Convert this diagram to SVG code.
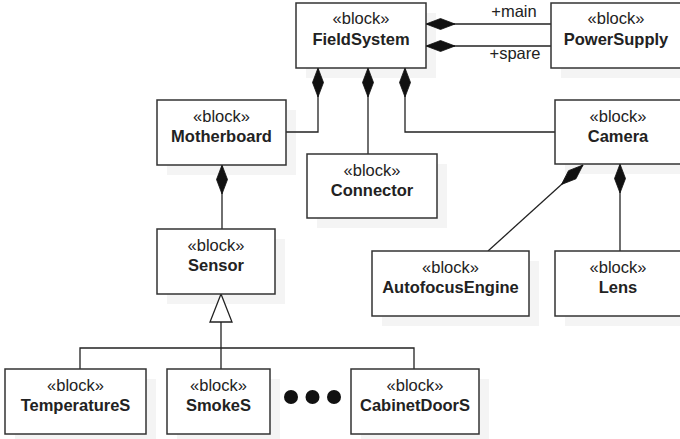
<svg xmlns="http://www.w3.org/2000/svg" width="680" height="439" viewBox="0 0 680 439">
<style>
.shadow{fill:#f4f4f4;stroke:none}
.box{fill:#fff;stroke:#333;stroke-width:1.5}
.st{font-family:"Liberation Sans",Arial,sans-serif;font-size:16.5px;fill:#222;text-anchor:middle}
.nm{font-family:"Liberation Sans",Arial,sans-serif;font-size:16.5px;font-weight:bold;fill:#222;text-anchor:middle}
.lbl{font-family:"Liberation Sans",Arial,sans-serif;font-size:16.5px;fill:#222;text-anchor:middle}
.ln{fill:none;stroke:#222;stroke-width:1.3}
.comp{marker-start:url(#diamond)}
</style>
<defs>
<marker id="diamond" markerUnits="userSpaceOnUse" markerWidth="32" markerHeight="14" viewBox="-1 -7 32 14" refX="0" refY="0" orient="auto" overflow="visible">
<path d="M0,0 L14.5,-5.5 L29,0 L14.5,5.5 Z" fill="#111" stroke="#111" stroke-width="0.8"/>
</marker>
</defs>
<g id="shadows">
<rect class="shadow" x="306" y="13" width="130" height="65"/>
<rect class="shadow" x="561" y="13" width="130" height="65"/>
<rect class="shadow" x="167" y="110" width="129" height="65"/>
<rect class="shadow" x="317" y="164" width="130" height="64"/>
<rect class="shadow" x="565" y="110" width="125" height="64"/>
<rect class="shadow" x="167" y="239" width="118" height="65"/>
<rect class="shadow" x="382" y="261" width="157" height="65"/>
<rect class="shadow" x="565" y="261" width="125" height="65"/>
<rect class="shadow" x="15" y="379" width="141" height="65"/>
<rect class="shadow" x="177" y="379" width="103" height="65"/>
<rect class="shadow" x="361" y="379" width="128" height="65"/>
</g>
<g id="connectors">
<path class="ln comp" d="M426,24 L551,24"/>
<path class="ln comp" d="M426,46 L551,46"/>
<path class="ln comp" d="M318,68 L318,132 L286,132"/>
<path class="ln comp" d="M368,68 L368,154"/>
<path class="ln comp" d="M405,68 L405,132 L555,132"/>
<path class="ln comp" d="M222,165 L222,229"/>
<path class="ln comp" d="M583,165 L488,251"/>
<path class="ln comp" d="M620,164 L620,251"/>
<path class="ln" d="M221,322 L221,348 M80,369 L80,348 L414,348 L414,369 M221,348 L221,369"/>
<polygon points="221,294 232,322 210,322" fill="#fff" stroke="#222" stroke-width="1.3"/>
<text class="lbl" x="514" y="17">+main</text>
<text class="lbl" x="515" y="59">+spare</text>
</g>
<g id="FieldSystem">
<rect class="box" x="296" y="3" width="130" height="65"/>
<text class="st" x="361" y="24">«block»</text>
<text class="nm" x="361" y="45">FieldSystem</text>
</g>
<g id="PowerSupply">
<rect class="box" x="551" y="3" width="131" height="65"/>
<text class="st" x="616" y="24">«block»</text>
<text class="nm" x="616" y="45">PowerSupply</text>
</g>
<g id="Motherboard">
<rect class="box" x="157" y="100" width="129" height="65"/>
<text class="st" x="221.5" y="122">«block»</text>
<text class="nm" x="221.5" y="142">Motherboard</text>
</g>
<g id="Connector">
<rect class="box" x="307" y="154" width="130" height="64"/>
<text class="st" x="372" y="176">«block»</text>
<text class="nm" x="372" y="196">Connector</text>
</g>
<g id="Camera">
<rect class="box" x="555" y="100" width="127" height="64"/>
<text class="st" x="618" y="122">«block»</text>
<text class="nm" x="618" y="142">Camera</text>
</g>
<g id="Sensor">
<rect class="box" x="157" y="229" width="118" height="65"/>
<text class="st" x="216" y="251">«block»</text>
<text class="nm" x="216" y="271">Sensor</text>
</g>
<g id="AutofocusEngine">
<rect class="box" x="372" y="251" width="157" height="65"/>
<text class="st" x="450.5" y="273">«block»</text>
<text class="nm" x="450.5" y="293">AutofocusEngine</text>
</g>
<g id="Lens">
<rect class="box" x="555" y="251" width="127" height="65"/>
<text class="st" x="618" y="273">«block»</text>
<text class="nm" x="618" y="293">Lens</text>
</g>
<g id="TemperatureS">
<rect class="box" x="5" y="369" width="141" height="65"/>
<text class="st" x="75.5" y="391">«block»</text>
<text class="nm" x="75.5" y="411">TemperatureS</text>
</g>
<g id="SmokeS">
<rect class="box" x="167" y="369" width="103" height="65"/>
<text class="st" x="218.5" y="391">«block»</text>
<text class="nm" x="218.5" y="411">SmokeS</text>
</g>
<g id="CabinetDoorS">
<rect class="box" x="351" y="369" width="128" height="65"/>
<text class="st" x="415" y="391">«block»</text>
<text class="nm" x="415" y="411">CabinetDoorS</text>
</g>
<g id="ellipsis" fill="#111">
<circle cx="291" cy="397" r="7"/>
<circle cx="312.5" cy="397" r="7"/>
<circle cx="334" cy="397" r="7"/>
</g>
</svg>
